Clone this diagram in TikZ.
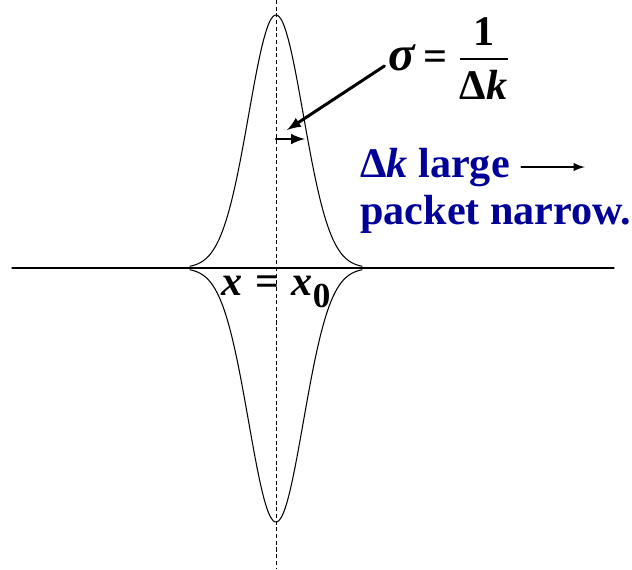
\documentclass[tikz,border=0pt]{standalone}
\usepackage{amsmath}
\usepackage{fontspec}
\setmainfont{Liberation Serif}
\definecolor{packetblue}{RGB}{0,0,153}
\begin{document}
\begin{tikzpicture}[x=0.02cm,y=0.02cm,line cap=round,line join=round,>=latex,
  curve/.style={line width=0.6pt,domain=-86:86,samples=90,smooth},
  guide/.style={line width=0.5pt,line cap=butt,dash pattern=on 2.3pt off 1.5pt},
  thickarrow/.style={line width=1.7pt,->},
  thinarrow/.style={line width=1.2pt,->},
  bigtext/.style={font=\fontsize{24}{28}\selectfont\bfseries,inner sep=0pt}]
  \useasboundingbox (-276,-301) rectangle (356,268);
  \draw[line width=0.75pt] (-264,0) -- (338,0);
  % packet above and below the axis
  \draw[curve] plot (\x,{253*exp(-(\x*\x)/1490)});
  \draw[curve] plot (\x,{-254*exp(-(\x*\x)/1490)});
  \node[bigtext,anchor=base] (xzero) at (0,-27)
    {\itshape x\hspace{0.3em}\upshape=\hspace{0.3em}\itshape x\raisebox{-7pt}{\fontsize{20}{20}\selectfont\upshape 0}};
  \draw[guide] (0,268) -- (0,-301);
  % width of the packet
  \node[bigtext,anchor=base west] (sigma) at (112,198)
    {{\fontsize{28}{28}\selectfont\itshape σ}\hspace{0.2em}\upshape=\hspace{0.25em}$\genfrac{}{}{1.5pt}{0}{\hbox{\raisebox{-3pt}{1}}}{\hbox{Δ\itshape k}}$};
  \coordinate (halfL) at (0,129);
  \coordinate (halfR) at (29,129);
  \coordinate (sigmatip) at (11,138);
  \draw[thickarrow] (halfL) -- (halfR);
  \draw[thickarrow] ([xshift=-2pt,yshift=-4pt]sigma.west) -- (sigmatip);
  \node[bigtext,text=packetblue,anchor=base west] (dk) at (84,91) {Δ\textit{k} large};
  \node[bigtext,text=packetblue,anchor=base west] (packet) at ([yshift=-27pt]dk.base west) {packet narrow.};
  \draw[thinarrow] ([xshift=6.5pt]dk.east) -- ([xshift=42.5pt]dk.east);
\end{tikzpicture}
\end{document}
